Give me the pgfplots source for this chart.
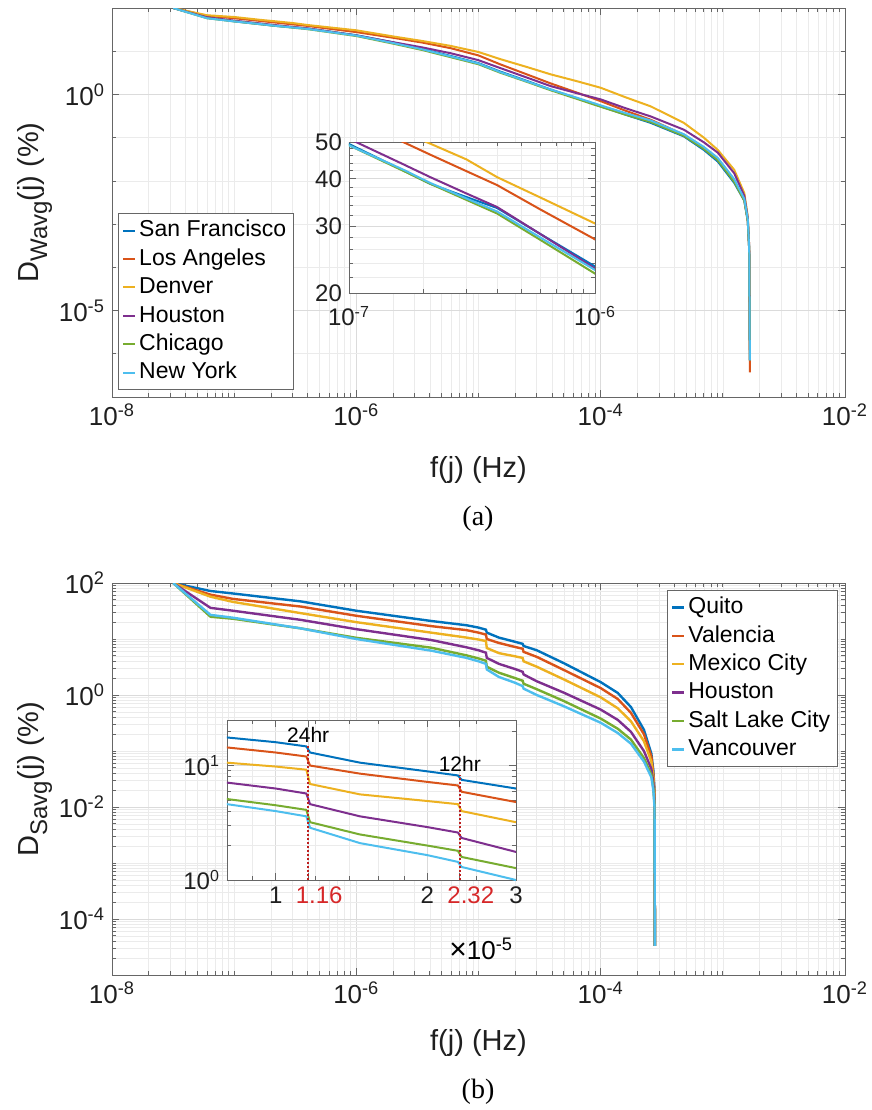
\documentclass[border=0pt]{standalone}
\usepackage{fontspec}
\setmainfont{Liberation Sans}
\newfontfamily\capfont{Liberation Serif}
\usepackage{pgfplots}
\usepackage{pgfplotstable}
\pgfplotsset{compat=1.18}

\definecolor{c1}{RGB}{0,114,189}
\definecolor{c2}{RGB}{217,83,25}
\definecolor{c3}{RGB}{237,177,32}
\definecolor{c4}{RGB}{126,47,142}
\definecolor{c5}{RGB}{119,172,48}
\definecolor{c6}{RGB}{77,190,238}
\definecolor{redlbl}{RGB}{214,39,40}
\definecolor{reddot}{RGB}{190,30,30}

\newcommand{\tickfont}{\fontsize{13}{15}\selectfont}
\newcommand{\insfont}{\fontsize{12}{14}\selectfont}
\newcommand{\legfont}{\fontsize{11.5}{13}\selectfont}
\newcommand{\labfont}{\fontsize{14.5}{16}\selectfont}
\newcommand{\sub}[1]{\raisebox{-0.28em}{\fontsize{12}{14}\selectfont #1}}

% (a) wind
\pgfplotstableread{
f        sf     la     den    hou    chi    ny
3.17e-8  100    100    100    100    100    100
6e-8     60     66     68     61     58     58
1e-7     49.4   58     62     51     49     49
1.66e-7  42.1   50     53     43.7   42     42.3
2.14e-7  38.8   46.3   49.5   40.4   38.8   39
3e-7     35.8   41.9   45     36.6   35.2   35.5
4e-7     33.5   38.5   40.4   33.7   32.4   32.8
6e-7     28.6   33.2   35.7   28.6   27.6   28
1e-6     23.5   27.7   30.5   23.2   22.5   23
2e-6     16     20.5   22     16.2   15     15.5
3.5e-6   11.2   15.8   17.2   12.2   10.6   11
5.9e-6   7.8    11.8   13.3   9.0    7.3    7.6
1e-5     5.3    8.0    9.6    6.2    5.0    5.2
1.5e-5   3.4    5.0    6.6    4.1    3.2    3.3
2.5e-5   2.05   2.9    4.3    2.45   1.95   2.0
3.9e-5   1.3    1.8    2.92   1.56   1.25   1.3
6.3e-5   0.83   1.12   2.05   1.08   0.80   0.85
1e-4     0.53   0.70   1.43   0.77   0.52   0.56
1.6e-4   0.34   0.42   0.86   0.48   0.34   0.37
2.57e-4  0.22   0.26   0.53   0.31   0.23   0.25
4.8e-4   0.107  0.117  0.22   0.153  0.11   0.12
7e-4     0.052  0.058  0.1    0.078  0.055  0.061
9.1e-4   0.028  0.031  0.052  0.045  0.03   0.034
1.24e-3  0.009  0.0105 0.018  0.015  0.0095 0.011
1.5e-3   0.0035 0.0035 0.0052 0.0045 0.0035 0.0038
1.6e-3   0.0012 0.0012 0.0015 0.0014 0.0012 0.0013
1.645e-3 2.5e-4 2.5e-4 3e-4   3e-4   2.5e-4 2.7e-4
1.665e-3 7e-7   3.7e-7 7e-7   7e-7   7e-7   7e-7
}\dataA

% (b) solar
\pgfplotstableread{
f        q      v      m      h      s      c
3.17e-8  100    100    100    100    100    100
6.4e-8   72     62     57     36     25     27
9.8e-8   65     52     46     32     23     24
3.5e-7   47     38     29     22     15.5   15.5
1e-6     32     26     20     15     10.5   10
4.1e-6   21     17     13     9.6    7.0    6.2
8e-6     17.6   14.4   10.6   7.1    5.1    4.6
1e-5     16     13     9.8    6.3    4.5    4.0
1.15e-5  14.7   12     9.2    5.7    4.1    3.6
1.17e-5  13     10     6.9    4.6    3.2    2.86
1.47e-5  10.6   8.5    5.6    3.6    2.5    2.1
2e-5     8.9    7.2    4.9    2.9    2.0    1.65
2.3e-5   8.2    6.7    4.6    2.6    1.8    1.44
2.34e-5  7.5    5.9    4.0    2.33   1.59   1.3
3e-5     6.3    4.8    3.2    1.76   1.27   1.0
5e-5     3.7    2.8    1.9    1.1    0.78   0.63
1e-4     1.7    1.33   0.91   0.55   0.38   0.32
1.38e-4  1.09   0.85   0.58   0.36   0.25   0.21
1.77e-4  0.61   0.48   0.34   0.22   0.16   0.135
2.26e-4  0.24   0.2    0.15   0.1    0.075  0.065
2.6e-4   0.09   0.08   0.065  0.048  0.038  0.034
2.7e-4   0.045  0.04   0.034  0.027  0.022  0.02
2.76e-4  0.02   0.018  0.016  0.013  0.011  0.01
2.78e-4  3.3e-5 3.3e-5 3.3e-5 3.3e-5 3.3e-5 3.3e-5
}\dataB

\pgfplotsset{
  every axis/.append style={
    scale only axis,
    axis line style={black!60},
    every tick/.append style={black!60, line width=0.4pt},
    major tick length=3.5pt, minor tick length=2pt,
    grid=both,
    major grid style={black!14, line width=0.4pt},
    minor grid style={black!8, line width=0.3pt},
    every tick label/.append style={font=\tickfont, text=black!88},
    every axis label/.append style={font=\labfont, text=black!88},
  },
  every axis legend/.append style={draw=black!60, fill=white, font=\legfont,
    inner xsep=2pt, inner ysep=3pt, row sep=3.2pt,
    nodes={inner xsep=1.5pt, inner ysep=0pt, text height=8.6pt, text depth=2.4pt}},
}

\begin{document}
\begin{tikzpicture}
\path[use as bounding box] (0,0) rectangle (436pt,-555pt);

% ---------- (a) ----------
\begin{axis}[xmode=log, ymode=log,
  at={(56pt,-198.5pt)}, anchor=south west, width=366.5pt, height=194.5pt,
  xmin=1e-8, xmax=1e-2, ymin=1e-7, ymax=1e2,
  xtick={1e-8,1e-6,1e-4,1e-2},
  xticklabels={10\textsuperscript{-8},10\textsuperscript{-6},10\textsuperscript{-4},10\textsuperscript{-2}},
  minor xtick={2e-8,3e-8,4e-8,5e-8,6e-8,7e-8,8e-8,9e-8,1e-7,2e-7,3e-7,4e-7,5e-7,6e-7,7e-7,8e-7,9e-7,
    2e-6,3e-6,4e-6,5e-6,6e-6,7e-6,8e-6,9e-6,1e-5,2e-5,3e-5,4e-5,5e-5,6e-5,7e-5,8e-5,9e-5,
    2e-4,3e-4,4e-4,5e-4,6e-4,7e-4,8e-4,9e-4,1e-3,2e-3,3e-3,4e-3,5e-3,6e-3,7e-3,8e-3,9e-3},
  ytick={1e-5,1}, yticklabels={10\textsuperscript{-5},10\textsuperscript{0}},
  minor ytick={1e-7,1e-6,1e-4,1e-3,1e-2,1e-1,10},
  xlabel={f(j) (Hz)},
  xlabel style={at={(axis description cs:0.5,-0.188)}, anchor=center},
  ylabel={D\sub{Wavg}(j) (\%)},
  ylabel style={at={(axis description cs:-0.105,0.5)}, anchor=center},
  legend cell align=left,
  legend image code/.code={\draw[#1] (0pt,0pt) -- (6pt,0pt);},
  legend style={at={(0.008,0.018)}, anchor=south west},
]
\addplot[c1, line width=1pt] table[x=f, y=sf] {\dataA};
\addplot[c2, line width=1pt] table[x=f, y=la] {\dataA};
\addplot[c3, line width=1pt] table[x=f, y=den] {\dataA};
\addplot[c4, line width=1pt] table[x=f, y=hou] {\dataA};
\addplot[c5, line width=1pt] table[x=f, y=chi] {\dataA};
\addplot[c6, line width=1pt] table[x=f, y=ny] {\dataA};
\legend{San Francisco, Los Angeles, Denver, Houston, Chicago, New York}
\end{axis}

\begin{axis}[xmode=log, ymode=log,
  at={(174.5pt,-146.5pt)}, anchor=south west, width=123pt, height=75.5pt,
  axis background/.style={fill=white},
  xmin=1e-7, xmax=1e-6, ymin=20, ymax=50,
  xtick={1e-7,1e-6}, xticklabels={10\textsuperscript{-7},10\textsuperscript{-6}},
  minor xtick={2e-7,3e-7,4e-7,5e-7,6e-7,7e-7,8e-7,9e-7},
  ytick={20,30,40,50}, yticklabels={20,30,40,50},
  minor ytick={22,24,26,28,32,34,36,38,42,44,46,48},
  every tick label/.append style={font=\insfont},
  xticklabel style={yshift=-3pt},
]
\addplot[c1, line width=1pt] table[x=f, y=sf] {\dataA};
\addplot[c2, line width=1pt] table[x=f, y=la] {\dataA};
\addplot[c3, line width=1pt] table[x=f, y=den] {\dataA};
\addplot[c4, line width=1pt] table[x=f, y=hou] {\dataA};
\addplot[c5, line width=1pt] table[x=f, y=chi] {\dataA};
\addplot[c6, line width=1pt] table[x=f, y=ny] {\dataA};
\end{axis}

\node[font=\capfont\fontsize{14}{16}\selectfont] at (239pt,-259.5pt) {(a)};

% ---------- (b) ----------
\begin{axis}[xmode=log, ymode=log,
  at={(56pt,-487.5pt)}, anchor=south west, width=366.5pt, height=196pt,
  xmin=1e-8, xmax=1e-2, ymin=1e-5, ymax=1e2,
  xtick={1e-8,1e-6,1e-4,1e-2},
  xticklabels={10\textsuperscript{-8},10\textsuperscript{-6},10\textsuperscript{-4},10\textsuperscript{-2}},
  minor xtick={2e-8,3e-8,4e-8,5e-8,6e-8,7e-8,8e-8,9e-8,1e-7,2e-7,3e-7,4e-7,5e-7,6e-7,7e-7,8e-7,9e-7,
    2e-6,3e-6,4e-6,5e-6,6e-6,7e-6,8e-6,9e-6,1e-5,2e-5,3e-5,4e-5,5e-5,6e-5,7e-5,8e-5,9e-5,
    2e-4,3e-4,4e-4,5e-4,6e-4,7e-4,8e-4,9e-4,1e-3,2e-3,3e-3,4e-3,5e-3,6e-3,7e-3,8e-3,9e-3},
  ytick={1e-4,1e-2,1,1e2},
  yticklabels={10\textsuperscript{-4},10\textsuperscript{-2},10\textsuperscript{0},10\textsuperscript{2}},
  minor ytick={2e-5,3e-5,4e-5,5e-5,6e-5,7e-5,8e-5,9e-5,2e-4,3e-4,4e-4,5e-4,6e-4,7e-4,8e-4,9e-4,
    1e-3,2e-3,3e-3,4e-3,5e-3,6e-3,7e-3,8e-3,9e-3,2e-2,3e-2,4e-2,5e-2,6e-2,7e-2,8e-2,9e-2,
    1e-1,2e-1,3e-1,4e-1,5e-1,6e-1,7e-1,8e-1,9e-1,2,3,4,5,6,7,8,9,10,20,30,40,50,60,70,80,90},
  xlabel={f(j) (Hz)},
  xlabel style={at={(axis description cs:0.5,-0.173)}, anchor=center},
  ylabel={D\sub{Savg}(j) (\%)},
  ylabel style={at={(axis description cs:-0.105,0.5)}, anchor=center},
  legend cell align=left,
  legend image code/.code={\draw[#1] (0pt,0pt) -- (6pt,0pt);},
  legend style={at={(0.99,0.982)}, anchor=north east},
]
\addplot[c1, line width=1.2pt] table[x=f, y=q] {\dataB};
\addplot[c2, line width=1.2pt] table[x=f, y=v] {\dataB};
\addplot[c3, line width=1.2pt] table[x=f, y=m] {\dataB};
\addplot[c4, line width=1.2pt] table[x=f, y=h] {\dataB};
\addplot[c5, line width=1.2pt] table[x=f, y=s] {\dataB};
\addplot[c6, line width=1.2pt] table[x=f, y=c] {\dataB};
\legend{Quito, Valencia, Mexico City, Houston, Salt Lake City, Vancouver}
\end{axis}

\begin{axis}[xmode=log, ymode=log,
  at={(113.5pt,-440pt)}, anchor=south west, width=144.5pt, height=80pt,
  axis background/.style={fill=white},
  clip mode=individual,
  xmin=8e-6, xmax=3e-5, ymin=1, ymax=25,
  xtick={1e-5,1.16e-5,2e-5,2.32e-5,3e-5},
  xticklabels={1,\hspace*{11pt}\textcolor{redlbl}{1.16},2,\hspace*{11pt}\textcolor{redlbl}{2.32},3},
  minor xtick={9e-6,1.2e-5,1.4e-5,1.6e-5,1.8e-5,2.5e-5},
  ytick={1,10}, yticklabels={10\textsuperscript{0},10\textsuperscript{1}},
  minor ytick={2,3,4,5,6,7,8,9,20},
  every tick label/.append style={font=\insfont},
]
\addplot[c1, line width=1pt] table[x=f, y=q] {\dataB};
\addplot[c2, line width=1pt] table[x=f, y=v] {\dataB};
\addplot[c3, line width=1pt] table[x=f, y=m] {\dataB};
\addplot[c4, line width=1pt] table[x=f, y=h] {\dataB};
\addplot[c5, line width=1pt] table[x=f, y=s] {\dataB};
\addplot[c6, line width=1pt] table[x=f, y=c] {\dataB};
\addplot[reddot, densely dotted, line width=1pt] coordinates {(1.16e-5,1) (1.16e-5,14.7)};
\addplot[reddot, densely dotted, line width=1pt] coordinates {(2.32e-5,1) (2.32e-5,8.2)};
\node[font=\fontsize{10.5}{12}\selectfont] at (axis cs:1.16e-5,18.7) {24hr};
\node[font=\fontsize{10.5}{12}\selectfont] at (axis cs:2.32e-5,10.4) {12hr};
\node[font=\tickfont] at (rel axis cs:0.88,-0.43) {{\fontsize{15}{16}\selectfont ×}10\textsuperscript{-5}};
\end{axis}

\node[font=\capfont\fontsize{14}{16}\selectfont] at (239pt,-546pt) {(b)};
\end{tikzpicture}
\end{document}
